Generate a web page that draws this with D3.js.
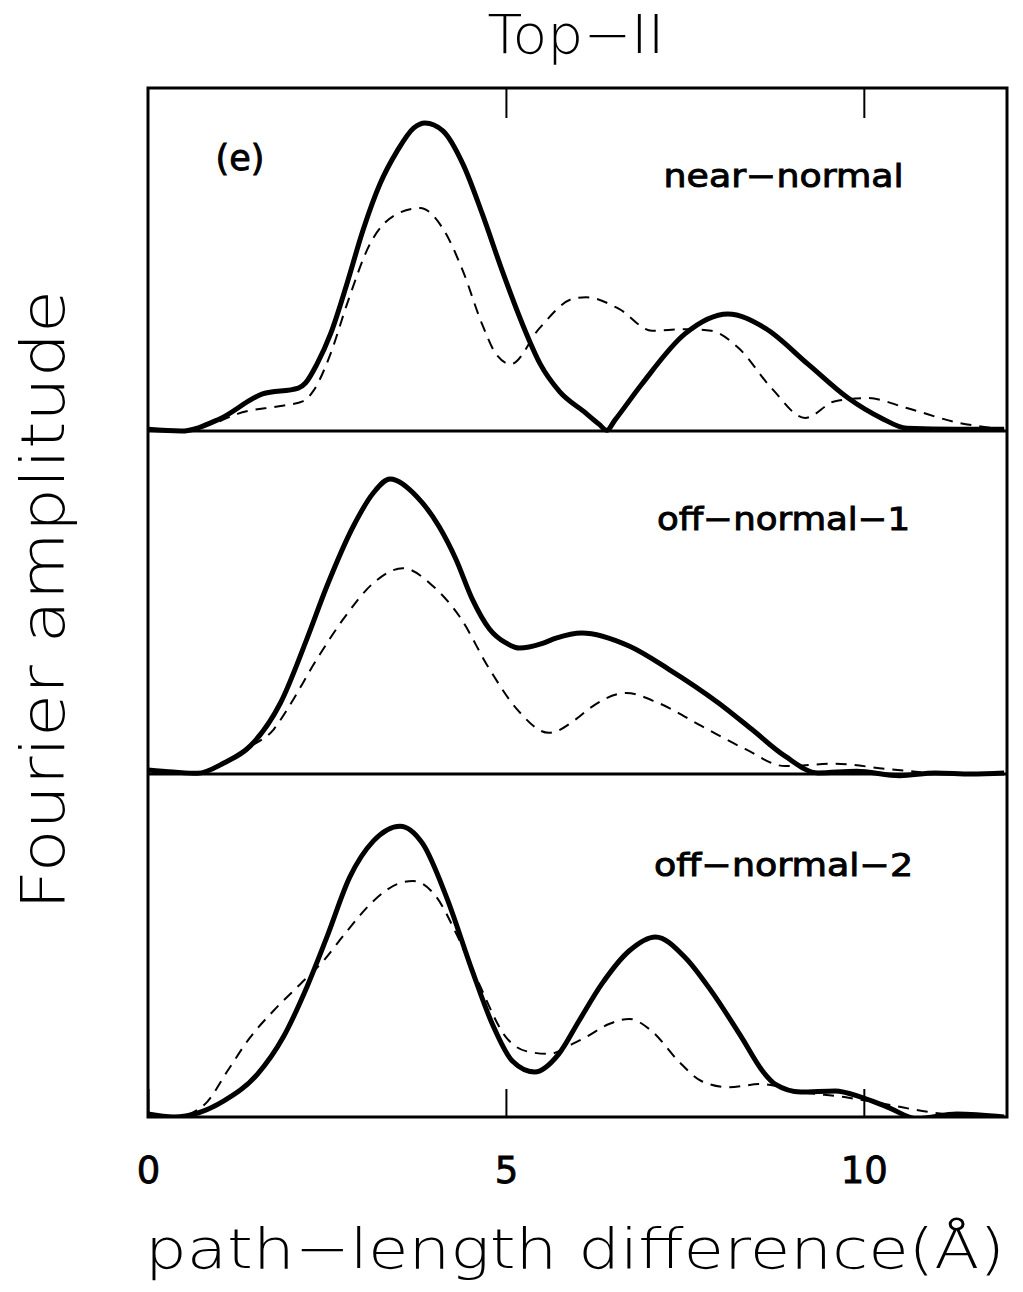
<!DOCTYPE html>
<html>
<head>
<meta charset="utf-8">
<script src="https://cdn.jsdelivr.net/npm/d3@7"></script>
<style>
  body { margin: 0; background: #fff; }
  text { font-family: "DejaVu Sans", sans-serif; fill: #000; }
  .big { font-weight: 200; }
  .lbl { stroke: #000; stroke-width: 0.9px; }
</style>
</head>
<body>
<div id="chart"></div>
<script>
// x: path-length difference (A), y: Fourier amplitude (arb. units, 0..10 per panel)
const xTicks = [0, 5, 10];
const panelNames = ['near\u2212normal', 'off\u2212normal\u22121', 'off\u2212normal\u22122'];

const nearNormalSolid = [[0,0.05],[0.46,0],[1.0,0.35],[1.6,1.08],[2.1,1.25],[2.2,1.4],[2.36,1.95],[2.55,2.83],
  [2.78,4.3],[3.0,5.83],[3.24,7.2],[3.48,8.16],[3.71,8.83],[3.87,8.98],[4.12,8.75],[4.4,7.78],[4.67,6.33],
  [4.95,4.66],[5.23,3.12],[5.48,1.95],[5.75,1.15],[6.1,0.55],[6.3,0.2],[6.41,0.02],[6.52,0.31],[6.9,1.37],
  [7.5,2.83],[8.1,3.41],[8.62,3.0],[9.22,1.95],[9.78,0.96],[10.24,0.38],[10.6,0.08],[11.3,0.05],[11.96,0.05]];
const nearNormalDashed = [[1.0,0.28],[1.25,0.5],[1.85,0.73],[2.17,0.87],[2.31,1.17],[2.55,2.25],[2.78,3.7],
  [3.1,5.45],[3.48,6.33],[3.8,6.5],[4.12,5.9],[4.4,4.66],[4.67,3.1],[4.86,2.25],[5.07,1.95],[5.47,3.0],
  [5.93,3.85],[6.12,3.9],[6.58,3.56],[7.04,2.92],[7.5,2.97],[7.87,2.92],[8.25,2.42],[8.71,1.25],[9.18,0.38],
  [9.6,0.87],[10.05,0.96],[10.6,0.67],[11.3,0.25],[11.96,0.05]];

const offNormal1Solid = [[0,0.12],[0.35,0.06],[0.69,0.02],[1.06,0.32],[1.43,0.82],[1.85,2.07],[2.22,3.94],[2.5,5.48],
  [2.87,7.23],[3.15,8.2],[3.38,8.6],[3.75,8.1],[4.07,7.2],[4.3,6.27],[4.53,5.1],[4.77,4.23],[5.0,3.82],
  [5.19,3.67],[5.5,3.8],[5.7,3.96],[6.06,4.11],[6.72,3.73],[7.27,3.06],[7.97,2.07],[8.43,1.31],[8.9,0.52],
  [9.36,0.03],[9.9,0.08],[10.5,-0.05],[11.0,0.03],[11.5,0.0],[11.96,0.03]];
const offNormal1Dashed = [[1.0,0.28],[1.43,0.8],[1.76,1.31],[1.95,1.9],[2.36,3.35],[2.73,4.52],[3.15,5.57],
  [3.56,6.0],[3.98,5.48],[4.35,4.6],[4.77,3.06],[5.15,1.9],[5.6,1.2],[5.98,1.6],[6.16,1.9],[6.68,2.36],
  [7.13,2.07],[7.73,1.4],[8.34,0.73],[8.9,0.23],[9.6,0.3],[10.3,0.15],[10.8,0.05]];

const offNormal2Solid = [[0,0.09],[0.36,0],[1.06,0.47],[1.53,1.25],[1.89,2.33],[2.22,3.79],[2.5,5.25],[2.82,7.0],
  [3.15,8.05],[3.52,8.48],[3.84,7.96],[4.17,6.41],[4.53,4.26],[4.81,2.71],[5.09,1.63],[5.4,1.31],[5.74,1.84],
  [6.02,2.8],[6.34,3.88],[6.72,4.84],[7.09,5.25],[7.5,4.66],[7.87,3.67],[8.29,2.33],[8.6,1.3],[8.76,0.96],
  [9.12,0.73],[9.6,0.76],[9.96,0.58],[10.33,0.29],[10.75,-0.05],[11.3,0.09],[11.96,0]];
const offNormal2Dashed = [[0.55,0.05],[0.83,0.45],[1.11,1.34],[1.43,2.33],[1.75,3.09],[2.13,3.88],[2.45,4.55],
  [2.78,5.42],[3.15,6.3],[3.48,6.79],[3.7,6.88],[4.03,6.41],[4.31,5.33],[4.6,4.0],[5.0,2.33],[5.28,1.92],
  [5.6,1.84],[5.93,2.13],[6.12,2.33],[6.44,2.71],[6.72,2.86],[7.04,2.5],[7.41,1.63],[7.73,1.05],[8.1,0.87],
  [8.57,0.96],[9.12,0.73],[9.73,0.58],[10.29,0.38],[10.89,0.15],[11.3,0.05]];

const panelSolid = [nearNormalSolid, offNormal1Solid, offNormal2Solid];
const panelDashed = [nearNormalDashed, offNormal1Dashed, offNormal2Dashed];
const panelLabelWidth = [240, 253, 259];

let width = 1023, height = 1292,
    margin = { top: 88, right: 16, bottom: 175, left: 148 },
    plotW = width - margin.left - margin.right,
    plotH = height - margin.top - margin.bottom,
    panelH = plotH / 3;

let svg = d3.select('#chart').append('svg')
    .attr('width', width)
    .attr('height', height);

let x = d3.scaleLinear().domain([0, 12]).range([margin.left, margin.left + plotW]);

svg.append('defs').append('clipPath')
    .attr('id', 'clip')
    .append('rect')
    .attr('x', margin.left)
    .attr('y', margin.top)
    .attr('width', plotW)
    .attr('height', plotH);

let plot = svg.append('g').attr('clip-path', 'url(#clip)');

panelNames.forEach(function(name, i) {
    let y = d3.scaleLinear().domain([0, 10])
        .range([margin.top + panelH * (i + 1), margin.top + panelH * i]);

    let line = d3.line()
        .curve(d3.curveMonotoneX)
        .x(function(d) { return x(d[0]); })
        .y(function(d) { return y(d[1]); });

    plot.append('path')
        .datum(panelDashed[i])
        .attr('fill', 'none')
        .attr('stroke', '#000')
        .attr('stroke-width', 2)
        .attr('stroke-dasharray', '11,8')
        .attr('d', line);

    plot.append('path')
        .datum(panelSolid[i])
        .attr('fill', 'none')
        .attr('stroke', '#000')
        .attr('stroke-width', 5)
        .attr('stroke-linejoin', 'round')
        .attr('d', line);

    // panel label
    svg.append('text')
        .attr('class', 'lbl')
        .attr('x', x(8.6) + 20)
        .attr('y', y(7.1) + (i === 2 ? 3 : 0))
        .attr('text-anchor', 'middle')
        .attr('font-size', 32)
        .attr('textLength', panelLabelWidth[i])
        .attr('lengthAdjust', 'spacingAndGlyphs')
        .text(name);

    if (i > 0) {
        svg.append('line')
            .attr('x1', margin.left).attr('x2', margin.left + plotW)
            .attr('y1', y(10)).attr('y2', y(10))
            .attr('stroke', '#000').attr('stroke-width', 3);
    }
});

svg.append('text')
    .attr('class', 'lbl')
    .attr('x', 240)
    .attr('y', 170)
    .attr('text-anchor', 'middle')
    .attr('font-size', 35)
    .text('(e)');

// frame
svg.append('rect')
    .attr('x', margin.left).attr('y', margin.top)
    .attr('width', plotW).attr('height', plotH)
    .attr('fill', 'none').attr('stroke', '#000').attr('stroke-width', 3);

// bottom axis: inward ticks with labels
let xAxis = svg.append('g')
    .attr('transform', 'translate(0,' + (margin.top + plotH) + ')')
    .call(d3.axisBottom(x).tickValues(xTicks).tickSize(-28).tickPadding(40).tickFormat(d3.format('d')));
xAxis.select('.domain').remove();
xAxis.selectAll('line').attr('stroke-width', 2);
xAxis.selectAll('text')
    .attr('font-size', 37)
    .attr('stroke', '#000')
    .attr('stroke-width', 0.8)
    .style('font-family', '"DejaVu Sans", sans-serif');

// top axis: inward ticks only
let xTop = svg.append('g')
    .attr('transform', 'translate(0,' + margin.top + ')')
    .call(d3.axisTop(x).tickValues(xTicks.slice(1)).tickSize(-30).tickFormat(''));
xTop.select('.domain').remove();
xTop.selectAll('line').attr('stroke-width', 2);

// titles
svg.append('text')
    .attr('class', 'big')
    .attr('x', 576)
    .attr('y', 53)
    .attr('text-anchor', 'middle')
    .attr('font-size', 53)
    .attr('textLength', 177)
    .attr('lengthAdjust', 'spacingAndGlyphs')
    .text('Top\u2212II');

svg.append('text')
    .attr('class', 'big')
    .attr('x', 575)
    .attr('y', 1268)
    .attr('text-anchor', 'middle')
    .attr('font-size', 56)
    .attr('textLength', 860)
    .attr('lengthAdjust', 'spacingAndGlyphs')
    .text('path\u2212length  difference(\u00c5)');

svg.append('text')
    .attr('class', 'big')
    .attr('transform', 'translate(64,600) rotate(-90)')
    .attr('text-anchor', 'middle')
    .attr('font-size', 60)
    .attr('textLength', 620)
    .attr('lengthAdjust', 'spacingAndGlyphs')
    .text('Fourier  amplitude');
</script>
</body>
</html>
